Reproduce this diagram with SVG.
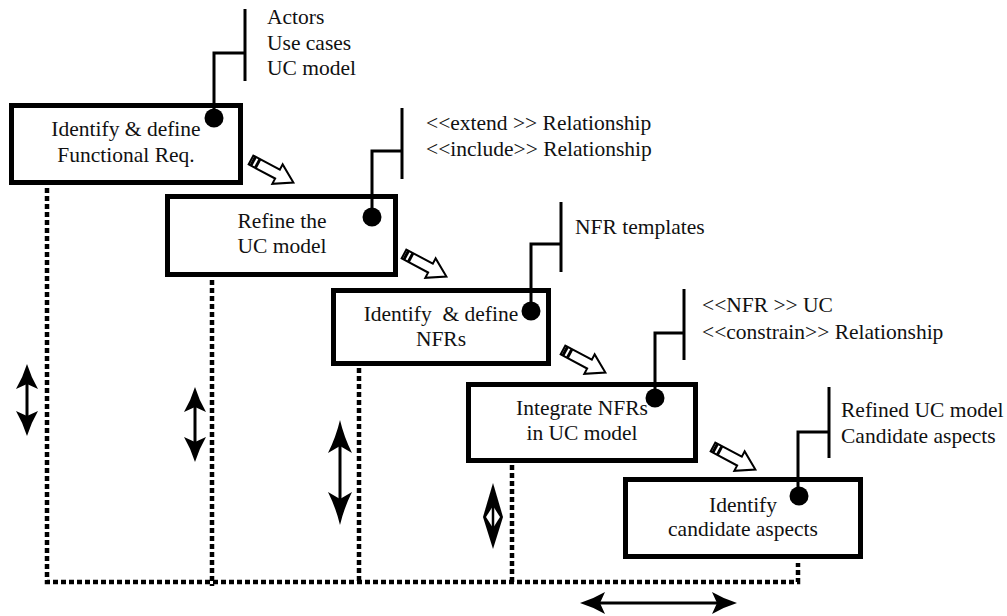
<svg xmlns="http://www.w3.org/2000/svg" xmlns:xlink="http://www.w3.org/1999/xlink" width="1007" height="616" viewBox="0 0 1007 616">
  <style>
    .box { fill: #fff; stroke: #000; stroke-width: 5; }
    .lbl { font-family: "Liberation Serif", "Times New Roman", "DejaVu Serif", serif; font-size: 21.5px; fill: #111; }
    .ctr { text-anchor: middle; }
    .lead { fill: none; stroke: #000; stroke-width: 3; }
    .dot { fill: #000; }
    .dash { fill: none; stroke: #000; stroke-width: 4.5; stroke-dasharray: 5 3; }
    .shaft { fill: none; stroke: #000; stroke-width: 3; }
    .hollow { fill: #fff; stroke: #000; stroke-width: 2; stroke-linejoin: miter; }
  </style>
  <defs>
    <!-- solid arrowheads, tip at origin pointing +y -->
    <path id="head" d="M0,0 Q-4,-17 -12,-33 L0,-26 L12,-33 Q4,-17 0,0 Z" fill="#000"/>
    <path id="headS" d="M0,0 Q-4,-13 -11,-25 L0,-20 L11,-25 Q4,-13 0,0 Z" fill="#000"/>
    <!-- hollow block arrow, tail at origin pointing +x -->
    <g id="step">
      <path class="hollow" d="M0,-5 L30,-5 L30,-11 L48,0 L30,11 L30,5 L0,5 Z"/>
      <rect x="1" y="-5" width="3" height="10" fill="#000"/>
      <rect x="6" y="-5" width="3" height="10" fill="#000"/>
    </g>
  </defs>

  <!-- dotted time lines -->
  <g id="connectors">
    <path class="dash" d="M47,188 V582 H798 V563"/>
    <path class="dash" d="M212,280 V586"/>
    <path class="dash" d="M359,368 V582"/>
    <path class="dash" d="M512,465 V582"/>

    <!-- step arrows between activities -->
    <use xlink:href="#step" transform="translate(251,160) rotate(28)"/>
    <use xlink:href="#step" transform="translate(404,254) rotate(28)"/>
    <use xlink:href="#step" transform="translate(563,350) rotate(28)"/>
    <use xlink:href="#step" transform="translate(713,447) rotate(28)"/>

    <!-- double-headed duration arrows -->
    <line class="shaft" x1="27" y1="375" x2="27" y2="425"/>
    <use xlink:href="#headS" transform="translate(27,364) rotate(180)"/>
    <use xlink:href="#headS" transform="translate(27,436)"/>

    <line class="shaft" x1="195" y1="398" x2="195" y2="451"/>
    <use xlink:href="#headS" transform="translate(195,387) rotate(180)"/>
    <use xlink:href="#headS" transform="translate(195,462)"/>

    <line class="shaft" x1="340" y1="435" x2="340" y2="510"/>
    <use xlink:href="#head" transform="translate(340,420) rotate(180)"/>
    <use xlink:href="#head" transform="translate(340,525)"/>

    <path d="M493,483 L503,517 L493,549 L483,517 Z" fill="#000"/>
    <path d="M493,506 L500,517 L493,528 L486,517 Z" fill="#fff"/>
    <line x1="493" y1="505" x2="493" y2="529" stroke="#000" stroke-width="2.5"/>

    <line class="shaft" x1="592" y1="603" x2="725" y2="603"/>
    <use xlink:href="#headS" transform="translate(580,603) rotate(90)"/>
    <use xlink:href="#headS" transform="translate(737,603) rotate(-90)"/>
  </g>

  <g id="functional">
    <rect class="box" x="11.5" y="105.5" width="229" height="77"/>
    <text class="lbl ctr" x="126" y="136">Identify &amp; define</text>
    <text class="lbl ctr" x="126" y="162">Functional Req.</text>
    <path class="lead" d="M214,118 V53 H245"/>
    <line class="lead" x1="245" y1="9" x2="245" y2="81"/>
    <circle class="dot" cx="214" cy="118" r="9.5"/>
    <text class="lbl" x="267" y="24">Actors</text>
    <text class="lbl" x="267" y="50">Use cases</text>
    <text class="lbl" x="267" y="75">UC model</text>
  </g>

  <g id="refine">
    <rect class="box" x="167.5" y="196.5" width="228" height="78"/>
    <text class="lbl ctr" x="282" y="228">Refine the</text>
    <text class="lbl ctr" x="282" y="253">UC model</text>
    <path class="lead" d="M372,217 V151 H402"/>
    <line class="lead" x1="402" y1="108" x2="402" y2="179"/>
    <circle class="dot" cx="372" cy="217" r="9.5"/>
    <text class="lbl" x="426" y="130">&lt;&lt;extend &gt;&gt; Relationship</text>
    <text class="lbl" x="426" y="156">&lt;&lt;include&gt;&gt; Relationship</text>
  </g>

  <g id="nfrs">
    <rect class="box" x="333.5" y="290.5" width="215" height="73"/>
    <text class="lbl ctr" x="441" y="321" xml:space="preserve">Identify  &amp; define</text>
    <text class="lbl ctr" x="441" y="346">NFRs</text>
    <path class="lead" d="M531,311 V244 H561"/>
    <line class="lead" x1="561" y1="202" x2="561" y2="272"/>
    <circle class="dot" cx="531" cy="311" r="9.5"/>
    <text class="lbl" x="575" y="234">NFR templates</text>
  </g>

  <g id="integrate">
    <rect class="box" x="468.5" y="384.5" width="227" height="76"/>
    <text class="lbl ctr" x="582" y="415">Integrate NFRs</text>
    <text class="lbl ctr" x="582" y="440">in UC model</text>
    <path class="lead" d="M655,398 V333 H684"/>
    <line class="lead" x1="684" y1="289" x2="684" y2="360"/>
    <circle class="dot" cx="655" cy="398" r="9.5"/>
    <text class="lbl" x="702" y="312">&lt;&lt;NFR &gt;&gt; UC</text>
    <text class="lbl" x="702" y="339">&lt;&lt;constrain&gt;&gt; Relationship</text>
  </g>

  <g id="aspects">
    <rect class="box" x="625.5" y="479.5" width="235" height="77"/>
    <text class="lbl ctr" x="743" y="512">Identify</text>
    <text class="lbl ctr" x="743" y="536">candidate aspects</text>
    <path class="lead" d="M798,496 V432 H829"/>
    <line class="lead" x1="829" y1="387" x2="829" y2="458"/>
    <circle class="dot" cx="799" cy="496" r="9.5"/>
    <text class="lbl" x="841" y="417">Refined UC model</text>
    <text class="lbl" x="841" y="443">Candidate aspects</text>
  </g>
</svg>
